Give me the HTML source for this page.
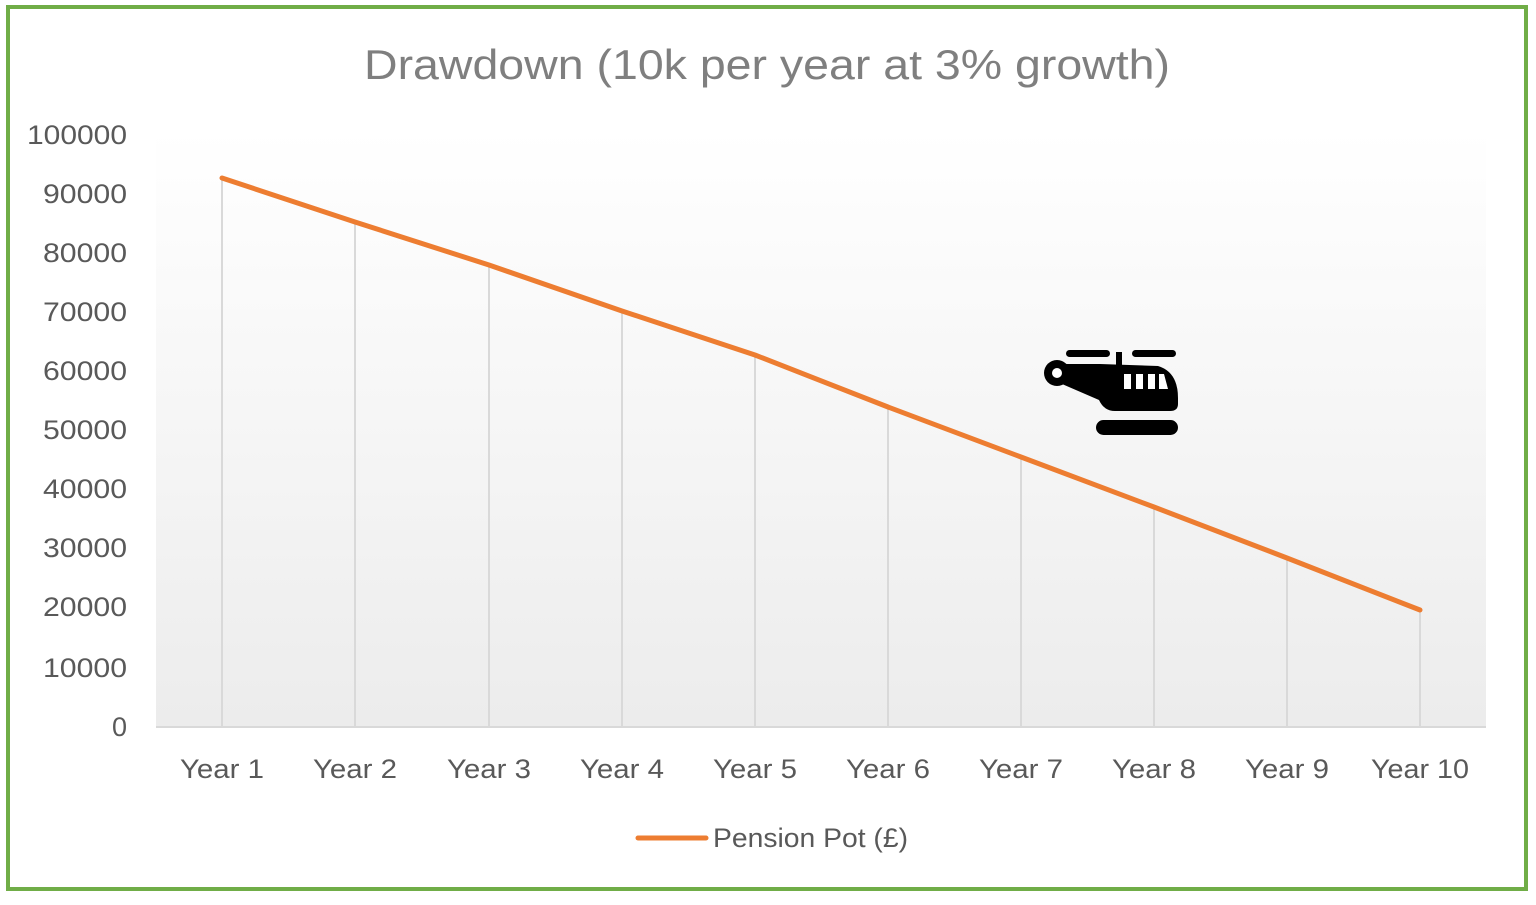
<!DOCTYPE html>
<html><head><style>
body{margin:0;background:#fff}
</style></head><body>
<svg width="1536" height="900" xmlns="http://www.w3.org/2000/svg" font-family="Liberation Sans, sans-serif">
<defs><linearGradient id="g" x1="0" y1="0" x2="0" y2="1"><stop offset="0" stop-color="#fff"/><stop offset="1" stop-color="#ececec"/></linearGradient></defs>
<rect x="0" y="0" width="1536" height="900" fill="#fff"/>
<rect x="156" y="130" width="1330" height="597" fill="url(#g)"/>
<rect x="8" y="7" width="1518" height="882" fill="none" stroke="#70ad47" stroke-width="4"/>
<text x="364" y="79" textLength="806" lengthAdjust="spacingAndGlyphs" font-size="42" fill="#7f7f7f">Drawdown (10k per year at 3% growth)</text>
<g font-size="27" fill="#595959" text-anchor="end">
<text x="127" y="144" textLength="100" lengthAdjust="spacingAndGlyphs">100000</text><text x="127" y="203" textLength="84" lengthAdjust="spacingAndGlyphs">90000</text><text x="127" y="262" textLength="84" lengthAdjust="spacingAndGlyphs">80000</text><text x="127" y="321" textLength="84" lengthAdjust="spacingAndGlyphs">70000</text><text x="127" y="380" textLength="84" lengthAdjust="spacingAndGlyphs">60000</text><text x="127" y="439" textLength="84" lengthAdjust="spacingAndGlyphs">50000</text><text x="127" y="498" textLength="84" lengthAdjust="spacingAndGlyphs">40000</text><text x="127" y="557" textLength="84" lengthAdjust="spacingAndGlyphs">30000</text><text x="127" y="616" textLength="84" lengthAdjust="spacingAndGlyphs">20000</text><text x="127" y="677" textLength="84" lengthAdjust="spacingAndGlyphs">10000</text><text x="127" y="736">0</text>
</g>
<g stroke="#d9d9d9" stroke-width="2">
<line x1="222" y1="178" x2="222" y2="727"/><line x1="355" y1="222" x2="355" y2="727"/><line x1="489" y1="265" x2="489" y2="727"/><line x1="622" y1="311" x2="622" y2="727"/><line x1="755" y1="355" x2="755" y2="727"/><line x1="888" y1="407" x2="888" y2="727"/><line x1="1021" y1="457" x2="1021" y2="727"/><line x1="1154" y1="507" x2="1154" y2="727"/><line x1="1287" y1="558" x2="1287" y2="727"/><line x1="1420" y1="610" x2="1420" y2="727"/>
</g>
<line x1="156" y1="727" x2="1486" y2="727" stroke="#d9d9d9" stroke-width="2"/>
<polyline points="222,178 355,222 489,265 622,311 755,355 888,407 1021,457 1154,507 1287,558 1420,610" fill="none" stroke="#ed7d31" stroke-width="5" stroke-linejoin="round" stroke-linecap="round"/>
<g font-size="27" fill="#595959">
<text x="180" y="778" textLength="84" lengthAdjust="spacingAndGlyphs">Year 1</text><text x="313" y="778" textLength="84" lengthAdjust="spacingAndGlyphs">Year 2</text><text x="447" y="778" textLength="84" lengthAdjust="spacingAndGlyphs">Year 3</text><text x="580" y="778" textLength="84" lengthAdjust="spacingAndGlyphs">Year 4</text><text x="713" y="778" textLength="84" lengthAdjust="spacingAndGlyphs">Year 5</text><text x="846" y="778" textLength="84" lengthAdjust="spacingAndGlyphs">Year 6</text><text x="979" y="778" textLength="84" lengthAdjust="spacingAndGlyphs">Year 7</text><text x="1112" y="778" textLength="84" lengthAdjust="spacingAndGlyphs">Year 8</text><text x="1245" y="778" textLength="84" lengthAdjust="spacingAndGlyphs">Year 9</text><text x="1371" y="778" textLength="98" lengthAdjust="spacingAndGlyphs">Year 10</text>
</g>
<line x1="638" y1="838" x2="706" y2="838" stroke="#ed7d31" stroke-width="5" stroke-linecap="round"/>
<text x="713" y="847" font-size="27" fill="#595959" textLength="195" lengthAdjust="spacingAndGlyphs">Pension Pot (£)</text>
<g fill="#000">
<rect x="1066" y="350" width="44" height="7" rx="3.5"/><rect x="1132" y="350" width="44" height="7" rx="3.5"/>
<rect x="1116" y="352" width="6" height="20"/>
<circle cx="1057" cy="373" r="13"/>
<path d="M1057,364 L1100,364 L1158,366 Q1178,372 1178,398 L1178,404 Q1178,411 1170,411 L1115,411 Q1104,411 1099,400 L1062,384 Z"/>
<rect x="1096" y="420" width="82" height="15" rx="7.5"/>
</g>
<circle cx="1057" cy="373" r="5" fill="#fff"/>
<g fill="#fff"><rect x="1124" y="374" width="7" height="15"/><rect x="1136" y="374" width="7" height="15"/><rect x="1148" y="374" width="7" height="15"/><path d="M1159,374 L1164,374 L1168,389 L1159,389Z"/></g>
</svg>
</body></html>
